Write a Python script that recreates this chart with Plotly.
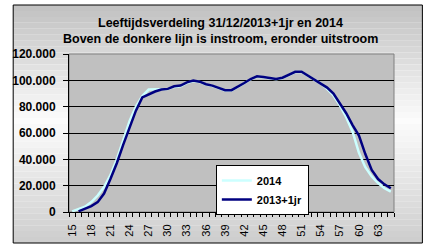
import plotly.graph_objects as go

ages = list(range(15, 66))
tick_ages = list(range(15, 64, 3))

# 2014 (ages 15..65)
v2014 = [500, 2000, 4000, 7500, 12500, 19000, 28000, 40000, 54000, 69000,
         80000, 88000, 93000, 93000, 93500, 93500, 95000, 95500, 98000, 99500,
         98800, 96800, 95800, 94300, 92300, 92300, 94800, 97800, 100800, 102800,
         102300, 101300, 100800, 101800, 104300, 106300, 106300, 103300, 100000, 97500,
         93500, 88500, 81000, 72000, 61000, 45000, 34000, 27000, 22000, 18000,
         15500]
# 2013+1jr (ages 16..65)
v2013p1 = [None, 500, 2500, 4500, 7500, 14000, 25000, 37000, 51000, 64000,
           77000, 87000, 89500, 91500, 93000, 93500, 95500, 96000, 98500, 99800,
           99000, 97000, 96000, 94500, 92500, 92500, 95000, 98000, 101000, 103000,
           102500, 101500, 101000, 102000, 104500, 106500, 106500, 103500, 100500, 98000,
           94500, 90000, 83000, 75000, 66000, 58000, 44000, 32000, 25000, 21000,
           18000]

FONT = "Arial, Liberation Sans, sans-serif"

fig = go.Figure()
fig.add_trace(go.Scatter(x=ages, y=v2014, name="2014", mode="lines",
                         line=dict(color="#ccffff", width=2.5)))
fig.add_trace(go.Scatter(x=ages, y=v2013p1, name="2013+1jr", mode="lines",
                         line=dict(color="#000080", width=2.5)))

# background gradient bands (chart area)
L, R, T, B = 62, 394, 54, 212
W, H = R - L, B - T
def px_x(p): return (p - L) / W
def px_y(p): return (B - p) / H

shapes = []
top, bottom = 5, 243
mid = 120
n = 40
def lerp(a, b, t): return int(round(a + (b - a) * t))
for i in range(n):
    y0 = top + (bottom - top) * i / n
    y1 = top + (bottom - top) * (i + 1) / n
    yc = (y0 + y1) / 2
    if yc <= mid:
        t = (yc - top) / (mid - top)
        c = lerp(192, 252, t)
    else:
        t = (yc - mid) / (bottom - mid)
        c = lerp(252, 205, t)
    shapes.append(dict(type="rect", xref="paper", yref="paper", layer="below",
                       x0=px_x(5), x1=px_x(423), y0=px_y(y1), y1=px_y(y0),
                       fillcolor=f"rgb({c},{c},{c})", line=dict(width=0)))
# outer border
shapes.append(dict(type="rect", xref="paper", yref="paper", layer="below",
                   x0=px_x(5), x1=px_x(423), y0=px_y(243), y1=px_y(5),
                   fillcolor="rgba(0,0,0,0)", line=dict(color="black", width=1)))
# plot area
shapes.append(dict(type="rect", xref="paper", yref="paper", layer="below",
                   x0=0, x1=1, y0=0, y1=1, fillcolor="#c0c0c0",
                   line=dict(color="#808080", width=1)))

annotations = [
    dict(text="<b>Leeftijdsverdeling 31/12/2013+1jr en 2014</b>", xref="paper", yref="paper",
         x=px_x(216.5), y=px_y(23), xanchor="center", yanchor="middle", showarrow=False,
         font=dict(family=FONT, size=12.5, color="black")),
    dict(text="<b>Boven de donkere lijn is instroom, eronder uitstroom</b>", xref="paper", yref="paper",
         x=px_x(216.5), y=px_y(39), xanchor="center", yanchor="middle", showarrow=False,
         font=dict(family=FONT, size=12.5, color="black")),
]

fig.update_layout(
    width=434, height=249,
    margin=dict(l=L, r=434 - R, t=T, b=249 - B),
    paper_bgcolor="white", plot_bgcolor="rgba(0,0,0,0)",
    separators=",.",
    shapes=shapes, annotations=annotations,
    showlegend=True,
    legend=dict(x=px_x(212), y=px_y(165), xanchor="left", yanchor="top",
                bgcolor="white", bordercolor="black", borderwidth=1,
                font=dict(family=FONT, size=11, color="black", weight="bold"),
                itemwidth=30, tracegroupgap=0),
    font=dict(family=FONT, color="black"),
)
fig.update_xaxes(range=[14.5, 65.5], tickvals=tick_ages, ticktext=[str(a) for a in tick_ages],
                 tickangle=-90, showgrid=False, zeroline=False,
                 showline=True, linecolor="black", linewidth=1,
                 ticks="", ticklabelstandoff=7,
                 tickfont=dict(family=FONT, size=11, color="black"),
                 minor=dict(ticks="outside", ticklen=4, tickcolor="black",
                            tick0=14.5, dtick=1, showgrid=False))
fig.update_yaxes(range=[0, 120000], dtick=20000, tickformat=",d",
                 showgrid=True, gridcolor="black", gridwidth=1, zeroline=False,
                 showline=True, linecolor="black", linewidth=1,
                 ticks="outside", ticklen=5, tickcolor="black", ticklabelstandoff=5,
                 tickfont=dict(family=FONT, size=12, color="black", weight="bold"))

fig.write_html("out.html")
